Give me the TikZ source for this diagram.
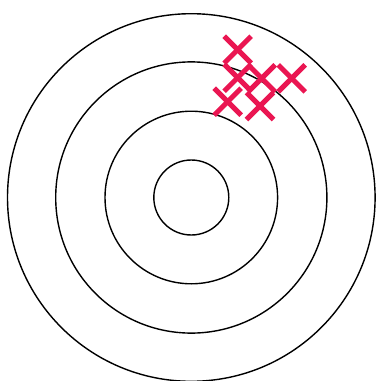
\documentclass[tikz,border=0pt]{standalone}
\definecolor{hit}{RGB}{234,22,82}
\tikzset{
  ring/.style={draw=black, line width=1.4pt},
  hitmark/.style={draw=hit, line width=5pt},
}
\newcommand{\hitx}[2]{%
  \draw[hitmark] (#1-13.5,#2-13.5) -- (#1+13.5,#2+13.5);
  \draw[hitmark] (#1-13.5,#2+13.5) -- (#1+13.5,#2-13.5);}
\begin{document}
\begin{tikzpicture}[x=1pt,y=-1pt]
\useasboundingbox (0,0) rectangle (377,381);
\coordinate (c) at (191.3,197.5);
\draw[ring] (c) circle[radius=37.5];
\draw[ring] (c) circle[radius=86.3];
\draw[ring] (c) circle[radius=135.6];
\draw[ring] (c) circle[radius=183.8];
\hitx{237.7}{49.7}
\hitx{237.7}{77.7}
\hitx{261.7}{78.3}
\hitx{291.7}{78.3}
\hitx{227.7}{101.7}
\hitx{260}{106}
\end{tikzpicture}
\end{document}
